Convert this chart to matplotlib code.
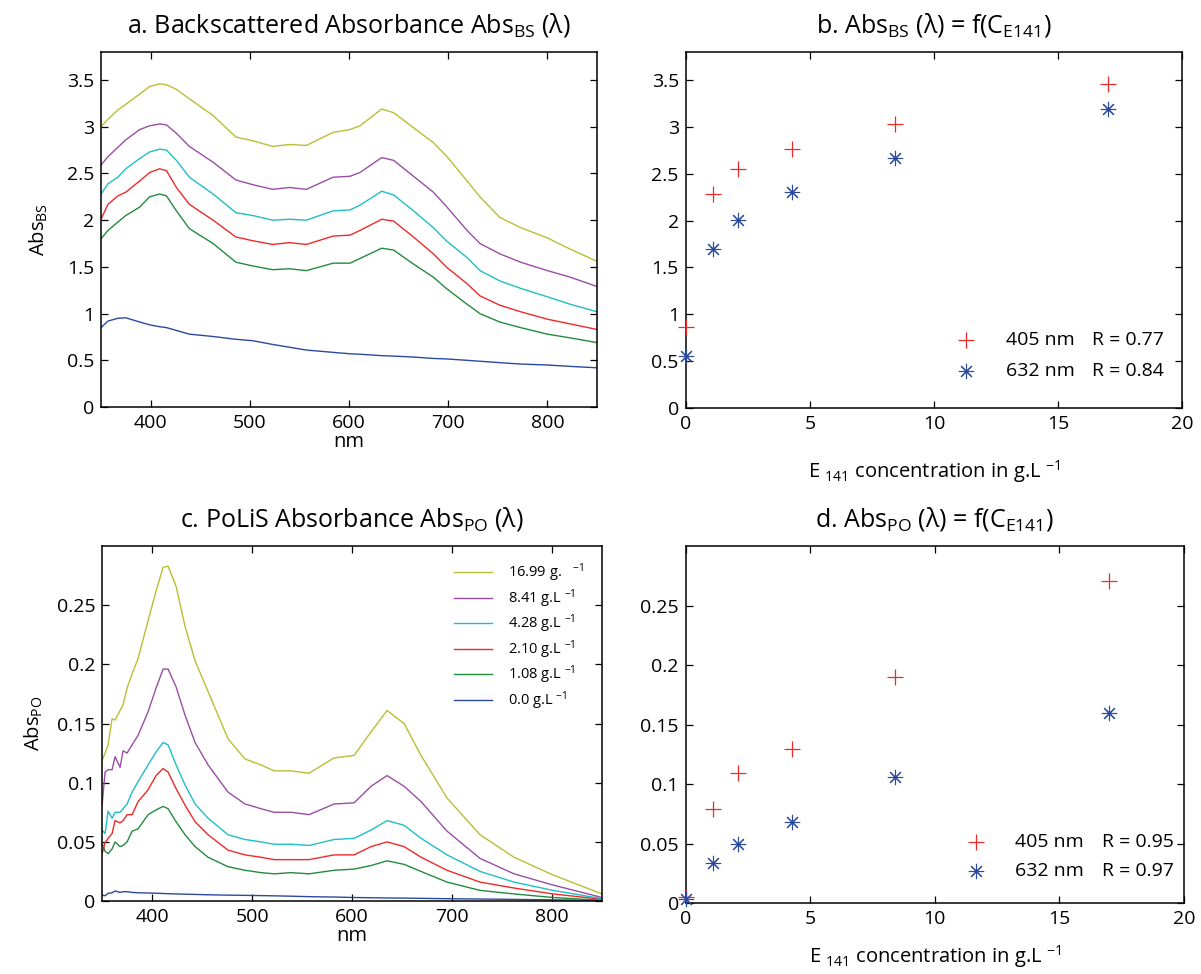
import numpy as np
import matplotlib
matplotlib.use("Agg")
import matplotlib.pyplot as plt
from matplotlib.ticker import FuncFormatter

plt.rcParams['font.family'] = ['Open Sans', 'DejaVu Sans']
plt.rcParams['mathtext.fontset'] = 'custom'
plt.rcParams['mathtext.rm'] = 'Open Sans'
plt.rcParams['mathtext.it'] = 'Open Sans:italic'
plt.rcParams['mathtext.bf'] = 'Open Sans:bold'

# concentrations of E141 (g/L), legend labels
conc = [0.0, 1.08, 2.10, 4.28, 8.41, 16.99]
conc_labels = ['0.0 g.L $^{-1}$', '1.08 g.L $^{-1}$', '2.10 g.L $^{-1}$',
               '4.28 g.L $^{-1}$', '8.41 g.L $^{-1}$', '16.99 g.   $^{-1}$']
colors = ['#2b4a9e', '#238b3e', '#ee2a2a', '#1fbfc6', '#9a4ea6', '#b8bf33']

# panel a : backscattered absorbance spectra
wl_a = [350, 357, 367, 375, 389, 399, 409, 416, 426, 439, 463, 486, 503, 523, 540,
        557, 584, 601, 611, 633, 645, 665, 685, 698, 719, 732, 752, 773, 800, 823, 850]
abs_bs_0 = [0.85, 0.92, 0.95, 0.955, 0.91, 0.88, 0.86, 0.85, 0.82, 0.78, 0.755, 0.725, 0.71, 0.67, 0.64,
            0.61, 0.585, 0.57, 0.565, 0.55, 0.545, 0.535, 0.52, 0.515, 0.50, 0.49, 0.475, 0.46, 0.45, 0.435, 0.42]
abs_bs_1 = [1.80, 1.89, 1.98, 2.05, 2.14, 2.25, 2.28, 2.26, 2.10, 1.91, 1.75, 1.55, 1.51, 1.47, 1.48,
            1.46, 1.54, 1.54, 1.59, 1.70, 1.68, 1.53, 1.39, 1.27, 1.10, 1.00, 0.91, 0.85, 0.78, 0.74, 0.69]
abs_bs_2 = [2.01, 2.17, 2.26, 2.30, 2.42, 2.51, 2.55, 2.53, 2.35, 2.17, 2.00, 1.82, 1.78, 1.74, 1.76,
            1.74, 1.83, 1.84, 1.89, 2.01, 1.99, 1.82, 1.64, 1.50, 1.32, 1.19, 1.09, 1.02, 0.94, 0.89, 0.83]
abs_bs_4 = [2.28, 2.39, 2.46, 2.55, 2.66, 2.73, 2.76, 2.75, 2.64, 2.46, 2.28, 2.08, 2.05, 2.00, 2.01,
            2.00, 2.10, 2.11, 2.16, 2.31, 2.27, 2.10, 1.92, 1.78, 1.60, 1.46, 1.35, 1.27, 1.18, 1.10, 1.02]
abs_bs_8 = [2.59, 2.68, 2.78, 2.86, 2.97, 3.01, 3.03, 3.02, 2.93, 2.79, 2.62, 2.43, 2.38, 2.33, 2.35,
            2.33, 2.46, 2.47, 2.51, 2.67, 2.64, 2.47, 2.30, 2.15, 1.89, 1.75, 1.64, 1.55, 1.46, 1.39, 1.29]
abs_bs_17 = [3.00, 3.08, 3.18, 3.24, 3.35, 3.43, 3.46, 3.45, 3.40, 3.30, 3.12, 2.89, 2.85, 2.79, 2.81,
             2.80, 2.94, 2.97, 3.01, 3.19, 3.15, 2.99, 2.83, 2.69, 2.42, 2.25, 2.03, 1.92, 1.81, 1.69, 1.56]

# panel c : PoLiS absorbance spectra
wl_c = [350, 353, 356, 360, 363, 368, 371, 375, 380, 386, 396, 404, 411, 416, 424, 433, 443, 456,
        476, 493, 509, 522, 539, 557, 582, 602, 619, 635, 652, 669, 695, 728, 762, 801, 850]
abs_po_0 = [0.005, 0.0045, 0.0065, 0.007, 0.0085, 0.0073, 0.0079, 0.0079, 0.0073, 0.007, 0.0068, 0.0066,
            0.0064, 0.0062, 0.006, 0.0058, 0.0056, 0.0053, 0.005, 0.0048, 0.0046, 0.0044, 0.0041, 0.0037,
            0.0034, 0.003, 0.0028, 0.0026, 0.0025, 0.0023, 0.002, 0.0017, 0.0014, 0.001, 0.0006]
abs_po_1 = [0.049, 0.042, 0.040, 0.044, 0.050, 0.046, 0.047, 0.050, 0.059, 0.061, 0.073, 0.077, 0.080,
            0.078, 0.067, 0.056, 0.046, 0.037, 0.029, 0.026, 0.024, 0.023, 0.024, 0.023, 0.026, 0.027,
            0.030, 0.034, 0.031, 0.025, 0.016, 0.009, 0.006, 0.003, 0.0006]
abs_po_2 = [0.040, 0.049, 0.053, 0.057, 0.068, 0.066, 0.068, 0.073, 0.073, 0.084, 0.094, 0.106, 0.112,
            0.109, 0.095, 0.081, 0.067, 0.056, 0.043, 0.039, 0.037, 0.035, 0.035, 0.035, 0.039, 0.039,
            0.046, 0.050, 0.046, 0.037, 0.026, 0.016, 0.011, 0.006, 0.0015]
abs_po_4 = [0.060, 0.057, 0.076, 0.070, 0.075, 0.075, 0.078, 0.082, 0.092, 0.101, 0.115, 0.126, 0.134,
            0.132, 0.115, 0.098, 0.082, 0.070, 0.056, 0.052, 0.050, 0.048, 0.048, 0.047, 0.052, 0.053,
            0.060, 0.068, 0.064, 0.053, 0.039, 0.025, 0.016, 0.009, 0.002]
abs_po_8 = [0.081, 0.109, 0.111, 0.111, 0.122, 0.113, 0.127, 0.125, 0.132, 0.140, 0.160, 0.180, 0.196,
            0.196, 0.181, 0.157, 0.134, 0.115, 0.092, 0.082, 0.078, 0.075, 0.075, 0.073, 0.082, 0.083,
            0.097, 0.106, 0.097, 0.084, 0.059, 0.036, 0.023, 0.0135, 0.003]
abs_po_17 = [0.119, 0.125, 0.132, 0.154, 0.153, 0.161, 0.166, 0.180, 0.192, 0.205, 0.237, 0.262, 0.282,
             0.283, 0.266, 0.232, 0.203, 0.177, 0.137, 0.120, 0.115, 0.110, 0.110, 0.108, 0.121, 0.123,
             0.143, 0.161, 0.150, 0.123, 0.087, 0.056, 0.037, 0.022, 0.006]

# panels b and d : absorbance at 405 / 632 nm vs concentration
bs_405 = [0.86, 2.28, 2.55, 2.76, 3.03, 3.46]
bs_632 = [0.55, 1.70, 2.01, 2.31, 2.67, 3.19]
po_405 = [0.005, 0.079, 0.109, 0.129, 0.190, 0.271]
po_632 = [0.003, 0.034, 0.050, 0.068, 0.106, 0.160]
r_bs = ['R = 0.77', 'R = 0.84']
r_po = ['R = 0.95', 'R = 0.97']

spectra_a = [abs_bs_0, abs_bs_1, abs_bs_2, abs_bs_4, abs_bs_8, abs_bs_17]
spectra_c = [abs_po_0, abs_po_1, abs_po_2, abs_po_4, abs_po_8, abs_po_17]

fmt = FuncFormatter(lambda v, p: '%g' % round(v, 4))
TICK = 14
LAB = 14.5
TIT = 18


def style_axes(ax):
    ax.tick_params(direction='in', top=True, right=True, length=5, width=0.9,
                   labelsize=TICK, pad=5, colors='black')
    for s in ax.spines.values():
        s.set_linewidth(1.1)
    ax.yaxis.set_major_formatter(fmt)
    ax.xaxis.set_major_formatter(fmt)


fig = plt.figure(figsize=(12.01, 9.74), dpi=100)
ax_a = fig.add_axes([0.0841, 0.5821, 0.413, 0.3645])
ax_b = fig.add_axes([0.571, 0.5811, 0.4135, 0.3655])
ax_c = fig.add_axes([0.085, 0.0749, 0.4163, 0.3645])
ax_d = fig.add_axes([0.571, 0.0729, 0.4147, 0.3665])

# a. backscattered spectra
for y, c in zip(spectra_a, colors):
    ax_a.plot(wl_a, y, color=c, lw=1.0)
ax_a.set_xlim(350, 850)
ax_a.set_ylim(0, 3.8)
ax_a.set_xticks([400, 500, 600, 700, 800])
ax_a.set_yticks(np.arange(0, 3.51, 0.5))
ax_a.set_xlabel('nm', fontsize=LAB, labelpad=0)
ax_a.set_ylabel('Abs$_{\\mathrm{BS}}$', fontsize=LAB, labelpad=12)
ax_a.set_title('a. Backscattered Absorbance Abs$_{\\mathrm{BS}}$ (\u03bb)', fontsize=TIT, pad=14)
style_axes(ax_a)

# c. PoLiS spectra
lines = []
for y, c in zip(spectra_c, colors):
    ln, = ax_c.plot(wl_c, y, color=c, lw=1.0)
    lines.append(ln)
ax_c.set_xlim(350, 850)
ax_c.set_ylim(0, 0.3)
ax_c.set_xticks([400, 500, 600, 700, 800])
ax_c.set_yticks(np.arange(0, 0.251, 0.05))
ax_c.set_xlabel('nm', fontsize=LAB, labelpad=0)
ax_c.set_ylabel('Abs$_{\\mathrm{PO}}$', fontsize=LAB, labelpad=8)
ax_c.set_title('c. PoLiS Absorbance Abs$_{\\mathrm{PO}}$ (\u03bb)', fontsize=TIT, pad=14)
ax_c.legend(lines[::-1], conc_labels[::-1], loc='upper right', frameon=False,
            fontsize=10.5, handlelength=2.6, handletextpad=1.15, labelspacing=0.2,
            borderaxespad=0.0, bbox_to_anchor=(0.976, 0.972))
style_axes(ax_c)

# b. and d. scatter vs concentration
xlab = 'E $_{141}$ concentration in g.L $^{-1}$'
for ax, v405, v632, rr, ylim, yt, title, key, lpad in [
        (ax_b, bs_405, bs_632, r_bs, 3.8, np.arange(0, 3.51, 0.5),
         'b. Abs$_{\\mathrm{BS}}$ (\u03bb) = f(C$_{\\mathrm{E141}}$)', (0.565, 0.19, 0.104), 18),
        (ax_d, po_405, po_632, r_po, 0.3, np.arange(0, 0.251, 0.05),
         'd. Abs$_{\\mathrm{PO}}$ (\u03bb) = f(C$_{\\mathrm{E141}}$)', (0.582, 0.171, 0.090), 11)]:
    ax.plot(conc, v405, '+', color='#ee2a2a', ms=12, mew=0.9, clip_on=False, zorder=3)
    ax.plot(conc, v632, marker=(8, 2, 0), ls='none', color='#2b4a9e', ms=11, mew=0.8,
            clip_on=False, zorder=3)
    ax.set_xlim(0, 20)
    ax.set_ylim(0, ylim)
    ax.set_xticks([0, 5, 10, 15, 20])
    ax.set_yticks(yt)
    ax.set_xlabel(xlab, fontsize=LAB, labelpad=lpad)
    ax.set_title(title, fontsize=TIT, pad=14)
    kx, ky1, ky2 = key
    ax.plot([kx], [ky1], '+', color='#ee2a2a', ms=12, mew=0.9, transform=ax.transAxes)
    ax.plot([kx], [ky2], marker=(8, 2, 0), color='#2b4a9e', ms=11, mew=0.8,
            transform=ax.transAxes)
    ax.text(kx + 0.079, ky1, '405 nm', transform=ax.transAxes, fontsize=TICK, va='center')
    ax.text(kx + 0.079, ky2, '632 nm', transform=ax.transAxes, fontsize=TICK, va='center')
    ax.text(kx + 0.254, ky1, rr[0], transform=ax.transAxes, fontsize=TICK, va='center')
    ax.text(kx + 0.254, ky2, rr[1], transform=ax.transAxes, fontsize=TICK, va='center')
    style_axes(ax)

fig.savefig('out.png', dpi=100)
